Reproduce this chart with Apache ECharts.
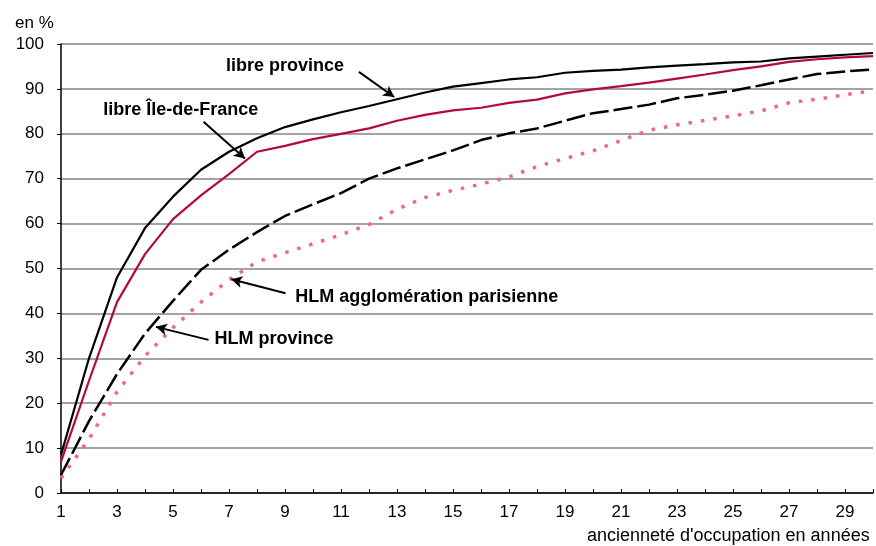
<!DOCTYPE html>
<html>
<head>
<meta charset="utf-8">
<script src="https://cdn.jsdelivr.net/npm/echarts@6/dist/echarts.min.js"></script>
<style>
  html, body { margin: 0; padding: 0; background: #fff; }
  #chart { width: 876px; height: 546px; }
</style>
</head>
<body>
<div id="chart"></div>
<script>
// ancienneté d'occupation (années)
const years = [1, 2, 3, 4, 5, 6, 7, 8, 9, 10, 11, 12, 13, 14, 15, 16, 17, 18, 19, 20, 21, 22, 23, 24, 25, 26, 27, 28, 29, 30]

// part cumulée en %
const libreProvince = [8.5, 30, 48, 59, 66, 72, 76, 79, 81.5, 83.2, 84.8, 86.2, 87.7, 89.2, 90.5, 91.3, 92.1, 92.6, 93.6, 94, 94.3, 94.8, 95.2, 95.5, 95.9, 96.1, 96.8, 97.2, 97.6, 98]
const libreIdf = [7, 25, 42.5, 53.2, 61, 66.3, 71, 76, 77.3, 78.8, 80, 81.2, 82.9, 84.2, 85.2, 85.8, 86.9, 87.6, 89, 89.9, 90.6, 91.4, 92.3, 93.2, 94.2, 95, 96, 96.6, 97, 97.3]
const hlmProvince = [4, 16, 26.5, 35.5, 42.8, 49.7, 54.2, 58.1, 61.7, 64.3, 66.8, 70, 72.3, 74.3, 76.3, 78.6, 80.1, 81.2, 82.9, 84.6, 85.5, 86.5, 87.9, 88.7, 89.6, 90.8, 92.1, 93.3, 93.9, 94.3]
const hlmParis = [3.3, 12, 22.5, 30.5, 36.8, 42.5, 47.5, 51.5, 53.5, 55.5, 57.5, 59.8, 63.2, 65.8, 67.4, 68.8, 70.4, 72.7, 74.5, 76.2, 78.5, 80.8, 82, 83, 84, 85.1, 86.9, 87.7, 88.7, 89.6]

// étiquettes : texte, position du texte, flèche (départ, pointe)
const labelNames = ['libre province', 'libre Île-de-France', 'HLM agglomération parisienne', 'HLM province']
const labelPos = [[9.0, 95.1], [5.28, 85.3], [14.06, 43.65], [8.61, 34.3]]
const arrowFrom = [[11.64, 93.8], [6.09, 82.7], [9.02, 44.5], [6.27, 34.1]]
const arrowTo = [[12.9, 88.2], [7.57, 74.5], [7.08, 47.6], [4.39, 37]]

const FONT = '"Liberation Sans", Arial, sans-serif'

const chart = echarts.init(document.getElementById('chart'))

function pairs(values) {
  return years.map((y, i) => [y, values[i]])
}

chart.setOption({
  animation: false,
  backgroundColor: '#fff',
  title: [
    {
      text: 'en %',
      left: 15,
      top: 15,
      padding: 0,
      textStyle: { fontFamily: FONT, fontSize: 17, fontWeight: 'normal', color: '#000' }
    },
    {
      text: "ancienneté d'occupation en années",
      left: 587,
      top: 527,
      padding: 0,
      textStyle: { fontFamily: FONT, fontSize: 18, fontWeight: 'normal', color: '#000' }
    }
  ],
  grid: {
    left: 61,
    top: 44,
    width: 821,
    height: 449
  },
  xAxis: {
    type: 'value',
    min: 1,
    max: 30,
    interval: 1,
    axisLine: { show: true, onZero: false, lineStyle: { color: '#000', width: 1.5 } },
    axisTick: { show: true, inside: true, length: 4, lineStyle: { color: '#000', width: 1 } },
    axisLabel: {
      fontFamily: FONT,
      fontSize: 17,
      color: '#000',
      margin: 11,
      formatter: v => (v % 2 === 1 ? String(v) : '')
    },
    splitLine: { show: false }
  },
  yAxis: {
    type: 'value',
    min: 0,
    max: 100,
    interval: 10,
    axisLine: { show: true, lineStyle: { color: '#000', width: 1.5 } },
    axisTick: { show: true, inside: false, length: 4, lineStyle: { color: '#000', width: 1 } },
    axisLabel: { fontFamily: FONT, fontSize: 17, color: '#000', margin: 17 },
    splitLine: { show: true, lineStyle: { color: '#858585', width: 1.5 } }
  },
  series: [
    {
      name: 'libre province',
      type: 'line',
      data: pairs(libreProvince),
      showSymbol: false,
      lineStyle: { color: '#000', width: 2.2 },
      z: 4,
      markLine: {
        silent: true,
        symbol: ['none', 'arrow'],
        symbolSize: [9, 11],
        label: { show: false },
        lineStyle: { color: '#000', width: 2, type: 'solid' },
        data: arrowFrom.map((p, i) => [{ coord: p }, { coord: arrowTo[i] }])
      },
      markPoint: {
        silent: true,
        symbol: 'rect',
        symbolSize: 0,
        label: {
          show: true,
          position: 'inside',
          fontFamily: FONT,
          fontSize: 18,
          fontWeight: 'bold',
          color: '#000',
          formatter: p => p.name
        },
        data: labelNames.map((n, i) => ({ name: n, coord: labelPos[i] }))
      }
    },
    {
      name: 'libre Île-de-France',
      type: 'line',
      data: pairs(libreIdf),
      showSymbol: false,
      lineStyle: { color: '#b4083e', width: 2.2 },
      z: 3
    },
    {
      name: 'HLM province',
      type: 'line',
      data: pairs(hlmProvince),
      showSymbol: false,
      lineStyle: { color: '#000', width: 2.5, type: [19, 5] },
      z: 2
    },
    {
      name: 'HLM agglomération parisienne',
      type: 'line',
      data: pairs(hlmParis),
      showSymbol: false,
      lineStyle: { color: '#f06a7c', width: 3.5, type: [3.5, 9] },
      z: 1
    }
  ]
})
</script>
</body>
</html>
